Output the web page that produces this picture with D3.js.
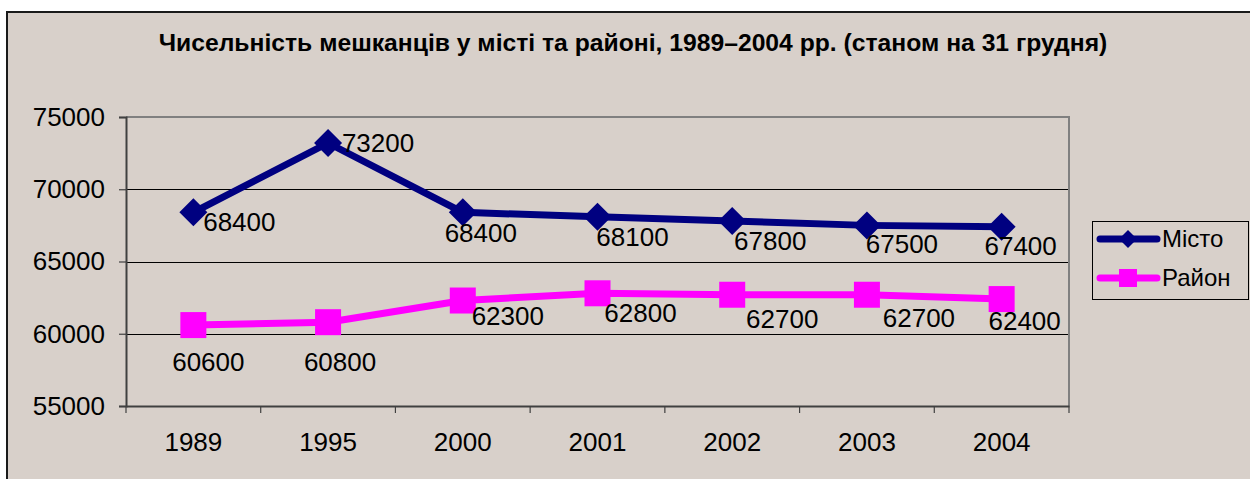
<!DOCTYPE html>
<html>
<head>
<meta charset="utf-8">
<script src="https://cdn.jsdelivr.net/npm/d3@7"></script>
<style>
  html, body { margin: 0; padding: 0; background: #fff; }
  svg { display: block; font-family: "Liberation Sans", Arial, sans-serif; }
</style>
</head>
<body>
<svg id="chart"></svg>
<script>
// data
const years = ["1989", "1995", "2000", "2001", "2002", "2003", "2004"];
const misto = [68400, 73200, 68400, 68100, 67800, 67500, 67400];
const raion = [60600, 60800, 62300, 62800, 62700, 62700, 62400];
const yTicks = [55000, 60000, 65000, 70000, 75000];
const seriesNames = ["Місто", "Район"];
const title = "Чисельність мешканців у місті та районі, 1989–2004 рр. (станом на 31 грудня)";

// label offsets from the point (label centre), as placed in the original
const mistoLabelOff = [[46, 10], [50, 0], [18, 21], [35, 20], [38, 20], [35, 19], [19, 19]];
const raionLabelOff = [[15, 37], [12, 40], [45, 15], [43, 20], [50, 24], [52, 23], [23, 22]];

const W = 1250, H = 479;
const bg = "#d8d0ca";
const navy = "#000080", magenta = "#ff00ff";

const svg = d3.select("#chart")
  .attr("width", W)
  .attr("height", H);

// chart area with border running off the right/bottom edge
svg.append("rect")
  .attr("x", 7).attr("y", 12)
  .attr("width", W + 10).attr("height", H + 10)
  .attr("fill", bg)
  .attr("stroke", "#1a1a1a")
  .attr("stroke-width", 2);

const plot = { left: 126, right: 1069, top: 117, bottom: 406 };

const x = d3.scaleBand()
  .domain(years)
  .range([plot.left, plot.right])
  .padding(0);
const xc = d => x(d) + x.bandwidth() / 2;

const y = d3.scaleLinear()
  .domain([55000, 75000])
  .range([plot.bottom, plot.top]);

// title
svg.append("text")
  .attr("x", 633).attr("y", 51)
  .attr("text-anchor", "middle")
  .attr("font-weight", "bold")
  .attr("font-size", 24.7)
  .attr("fill", "#000")
  .text(title);

// gridlines
svg.append("g").selectAll("line")
  .data(yTicks.filter(v => v > 55000 && v < 75000))
  .enter().append("line")
    .attr("x1", plot.left).attr("x2", plot.right)
    .attr("y1", d => Math.round(y(d)) + 0.5).attr("y2", d => Math.round(y(d)) + 0.5)
    .attr("stroke", "#000")
    .attr("stroke-width", 1);

// plot area border (top + right, grey)
svg.append("path")
  .attr("d", `M${plot.left},${plot.top}H${plot.right}V${plot.bottom}`)
  .attr("fill", "none")
  .attr("stroke", "#808080")
  .attr("stroke-width", 2);

// y axis
const yAxisG = svg.append("g")
  .attr("transform", `translate(${plot.left},0)`)
  .call(d3.axisLeft(y).tickValues(yTicks).tickSize(7).tickPadding(14).tickFormat(d3.format("d")));
yAxisG.select(".domain").attr("stroke", "#404040").attr("stroke-width", 2);
yAxisG.selectAll(".tick line").attr("stroke", "#404040").attr("stroke-width", 1.2);
yAxisG.selectAll(".tick text")
  .attr("font-size", 26)
  .attr("font-family", "Liberation Sans, Arial, sans-serif")
  .attr("fill", "#000");

// x axis: labels at centres, tick marks at category boundaries
const xAxisG = svg.append("g")
  .attr("transform", `translate(0,${plot.bottom})`)
  .call(d3.axisBottom(x).tickSize(0).tickPadding(27));
xAxisG.select(".domain").attr("stroke", "#404040").attr("stroke-width", 2);
xAxisG.selectAll(".tick text")
  .attr("font-size", 26)
  .attr("font-family", "Liberation Sans, Arial, sans-serif")
  .attr("fill", "#000");
xAxisG.selectAll(".boundary")
  .data(years.map(d => x(d)).concat([plot.right]))
  .enter().append("line")
    .attr("class", "boundary")
    .attr("x1", d => d).attr("x2", d => d)
    .attr("y1", 0).attr("y2", 7)
    .attr("stroke", "#404040")
    .attr("stroke-width", 1.2);

const line = d3.line()
  .x((d, i) => xc(years[i]))
  .y(d => y(d));

const diamond = s => `M0,${-s}L${s},0L0,${s}L${-s},0Z`;
const square = s => `M${-s},${-s}H${s}V${s}H${-s}Z`;

function drawSeries(values, color, marker, offs) {
  svg.append("path")
    .attr("d", line(values))
    .attr("fill", "none")
    .attr("stroke", color)
    .attr("stroke-width", 7)
    .attr("stroke-linejoin", "round");
  svg.append("g").selectAll("path")
    .data(values)
    .enter().append("path")
      .attr("transform", (d, i) => `translate(${xc(years[i])},${y(d)})`)
      .attr("d", marker)
      .attr("fill", color);
  svg.append("g").selectAll("text")
    .data(values)
    .enter().append("text")
      .attr("x", (d, i) => xc(years[i]) + offs[i][0])
      .attr("y", (d, i) => y(d) + offs[i][1])
      .attr("dy", "0.35em")
      .attr("text-anchor", "middle")
      .attr("font-size", 26)
      .attr("fill", "#000")
      .text(d => d);
}

drawSeries(misto, navy, diamond(14), mistoLabelOff);
drawSeries(raion, magenta, square(13), raionLabelOff);

// legend
const legend = svg.append("g");
legend.append("rect")
  .attr("x", 1092.5).attr("y", 221.5)
  .attr("width", 156).attr("height", 78)
  .attr("fill", "none")
  .attr("stroke", "#000")
  .attr("stroke-width", 1);

const legendItems = [
  { name: seriesNames[0], color: navy, marker: diamond(9), y: 239 },
  { name: seriesNames[1], color: magenta, marker: square(9), y: 278 }
];
const li = legend.selectAll(".item").data(legendItems)
  .enter().append("g")
    .attr("class", "item")
    .attr("transform", d => `translate(0,${d.y})`);
li.append("line")
  .attr("x1", 1100).attr("x2", 1157)
  .attr("stroke", d => d.color)
  .attr("stroke-width", 7)
  .attr("stroke-linecap", "round");
li.append("path")
  .attr("transform", "translate(1128,0)")
  .attr("d", d => d.marker)
  .attr("fill", d => d.color);
li.append("text")
  .attr("x", 1162)
  .attr("dy", "0.35em")
  .attr("font-size", 24)
  .attr("fill", "#000")
  .text(d => d.name);
</script>
</body>
</html>
